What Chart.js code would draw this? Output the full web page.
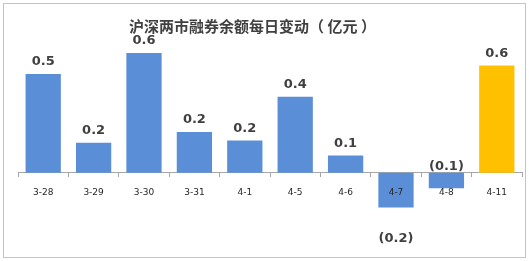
<!DOCTYPE html>
<html>
<head>
<meta charset="utf-8">
<script src="https://cdn.jsdelivr.net/npm/chart.js@4"></script>
<style>
  body { margin: 0; background: #fff; }
  #wrap { position: relative; width: 529px; height: 261px; }
  #frame { position: absolute; left: 3px; top: 3px; width: 521px; height: 253px; border: 1px solid #c4c4c4; }
  canvas { position: absolute; left: 0; top: 0; }
</style>
</head>
<body>
<div id="wrap">
  <div id="frame"></div>
  <canvas id="chart" width="529" height="261"></canvas>
</div>
<script>
// daily change in securities lending balance, 100m yuan
const titleText = "沪深两市融券余额每日变动（ 亿元 ）";
const dates = ["3-28", "3-29", "3-30", "3-31", "4-1", "4-5", "4-6", "4-7", "4-8", "4-11"];
const changes = [0.52, 0.158, 0.632, 0.214, 0.17, 0.40, 0.091, -0.184, -0.083, 0.565];

const blue = "#5a8fd8";
const yellow = "#ffc000";
const barColors = dates.map((d, i) => (i === dates.length - 1 ? yellow : blue));

const fmt = (v) => (v < 0 ? "(" + Math.abs(v).toFixed(1) + ")" : v.toFixed(1));

// value labels, negatives in brackets like the excel original
const valueLabels = {
  id: "valueLabels",
  afterDatasetsDraw(chart) {
    const ctx = chart.ctx;
    const meta = chart.getDatasetMeta(0);
    const zero = chart.scales.y.getPixelForValue(0);
    ctx.save();
    ctx.font = "bold 13px 'DejaVu Sans'";
    ctx.fillStyle = "#404040";
    ctx.textAlign = "center";
    ctx.textBaseline = "middle";
    meta.data.forEach((bar, i) => {
      const v = changes[i];
      let y;
      if (v >= 0) y = bar.y - 12;
      else if (Math.abs(v) < 0.1) y = zero - 6;
      else y = bar.y + 31;
      ctx.fillText(fmt(v), bar.x, y);
    });
    ctx.restore();
  }
};

const titlePlugin = {
  id: "titleText",
  afterDraw(chart) {
    const ctx = chart.ctx;
    ctx.save();
    ctx.font = "bold 15px 'Noto Sans CJK SC'";
    ctx.fillStyle = "#404040";
    ctx.textAlign = "center";
    ctx.textBaseline = "middle";
    ctx.fillText(titleText, chart.width / 2 - 12, 26);
    ctx.restore();
  }
};

new Chart(document.getElementById("chart").getContext("2d"), {
  type: "bar",
  data: {
    labels: dates,
    datasets: [{
      data: changes,
      backgroundColor: barColors,
      borderWidth: 0,
      barPercentage: 0.7,
      categoryPercentage: 1.0
    }]
  },
  options: {
    responsive: false,
    animation: false,
    layout: { padding: { left: 18, right: 7, top: 40, bottom: 41 } },
    plugins: {
      legend: { display: false },
      title: { display: false },
      tooltip: { enabled: false }
    },
    scales: {
      x: {
        position: { y: 0 },
        grid: {
          offset: true,
          drawOnChartArea: false,
          drawTicks: true,
          tickLength: 4,
          color: "#a6a6a6"
        },
        border: { color: "#a6a6a6", width: 1 },
        ticks: {
          z: 1,
          padding: 11,
          font: { family: "DejaVu Sans", size: 9 },
          color: "#262626",
          maxRotation: 0
        }
      },
      y: {
        display: false,
        min: -0.25,
        max: 0.7
      }
    }
  },
  plugins: [valueLabels, titlePlugin]
});
</script>
</body>
</html>
